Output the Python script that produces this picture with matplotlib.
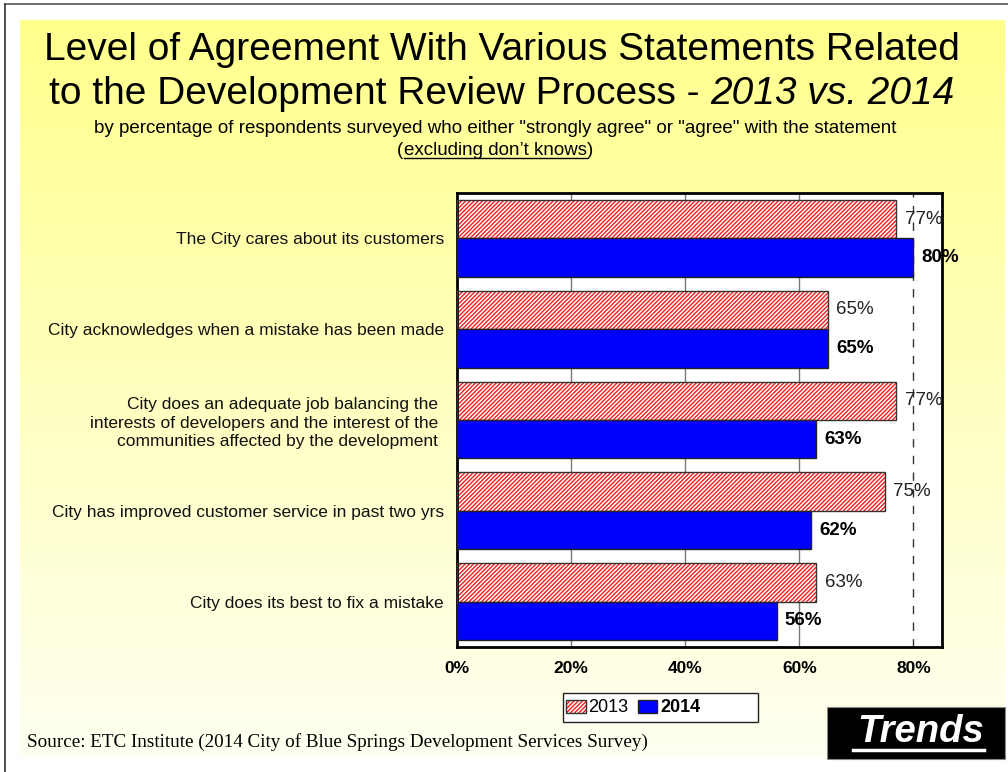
import numpy as np
import matplotlib
matplotlib.use("Agg")
import matplotlib.pyplot as plt
import matplotlib.patches as patches
from matplotlib.lines import Line2D

plt.rcParams['font.family'] = ['Liberation Sans', 'DejaVu Sans']
plt.rcParams['hatch.linewidth'] = 1.0

categories = [
    "The City cares about its customers",
    "City acknowledges when a mistake has been made",
    "City does an adequate job balancing the\ninterests of developers and the interest of the\ncommunities affected by the development",
    "City has improved customer service in past two yrs",
    "City does its best to fix a mistake",
]
pct_2013 = [77, 65, 77, 75, 63]
pct_2014 = [80, 65, 63, 62, 56]
x_ticks = [0, 20, 40, 60, 80]
x_tick_labels = ["0%", "20%", "40%", "60%", "80%"]

HATCH_RED = '#ff1a1a'
BLUE = '#0000ff'

W, H = 1008, 772
fig = plt.figure(figsize=(W / 100, H / 100), dpi=100)
fig.patch.set_facecolor('white')


def px(x, y):
    # pixel coords (from top-left) -> figure fraction
    return x / W, 1 - y / H


# slide background: yellow fading to cream
bg = fig.add_axes([20 / W, 1 - 757 / H, 985 / W, 737 / H], zorder=-5)
grad = np.linspace(0, 1, 256)[:, None]
top = np.array([255, 255, 140]) / 255
bot = np.array([255, 255, 242]) / 255
img = top[None, None, :] * (1 - grad[:, :, None]) + bot[None, None, :] * grad[:, :, None]
bg.imshow(np.repeat(img, 2, axis=1), aspect='auto', extent=[0, 1, 0, 1])
bg.axis('off')

# thin outer frame lines
fig.add_artist(Line2D([5 / W, 1], [1 - 4 / H, 1 - 4 / H], color='#555555', lw=1.2))
fig.add_artist(Line2D([5 / W, 5 / W], [0, 1 - 4 / H], color='#333333', lw=1.2))

# titles
fig.text(*px(502, 60), "Level of Agreement With Various Statements Related",
         ha='center', va='baseline', fontsize=28)

fig.canvas.draw()
renderer = fig.canvas.get_renderer()


def centered_runs(cx, y, runs):
    texts = []
    for s, kw in runs:
        texts.append(fig.text(0, 0, s, va='baseline', ha='left', **kw))
    widths = [t.get_window_extent(renderer).width for t in texts]
    x = cx - sum(widths) / 2
    for t, w in zip(texts, widths):
        t.set_position(px(x, y))
        x += w
    return texts


centered_runs(502, 104, [("to the Development Review Process - ", dict(fontsize=28)),
                         ("2013 vs. 2014", dict(fontsize=28, style='italic'))])
fig.text(*px(495, 133), 'by percentage of respondents surveyed who either "strongly agree" or "agree" with the statement',
         ha='center', va='baseline', fontsize=13.5)
sub = centered_runs(495, 155, [("(", dict(fontsize=13.5)),
                               ("excluding don\u2019t knows", dict(fontsize=13.5)),
                               (")", dict(fontsize=13.5))])
fig.canvas.draw()
bb = sub[1].get_window_extent(renderer)
uy = 1 - 158 / H
fig.add_artist(Line2D([bb.x0 / W, bb.x1 / W], [uy, uy], color='black', lw=1.0))

# main chart
ax = fig.add_axes([457 / W, 1 - 647 / H, 485 / W, 454 / H])
ax.set_facecolor('white')
n = len(categories)
centers = np.arange(n)[::-1]
bh = 0.424

ax.barh(centers + bh / 2, pct_2013, height=bh, color='white', edgecolor=HATCH_RED,
        hatch='////////', linewidth=0, zorder=2)
ax.barh(centers + bh / 2, pct_2013, height=bh, fill=False, edgecolor='#333333',
        linewidth=1.0, zorder=3)
ax.barh(centers - bh / 2, pct_2014, height=bh, color=BLUE, edgecolor='#222222',
        linewidth=1.0, zorder=3)

for c, v in zip(centers, pct_2013):
    ax.annotate(f"{v}%", (v, c + bh / 2), xytext=(6, 0), textcoords='offset points',
                va='center', ha='left', fontsize=13.5, color='#222222', zorder=4)
for c, v in zip(centers, pct_2014):
    ax.annotate(f"{v}%", (v, c - bh / 2), xytext=(6, 0), textcoords='offset points',
                va='center', ha='left', fontsize=13.5, fontweight='bold', color='black', zorder=4)

for g in x_ticks[1:-1]:
    ax.axvline(g, color='#777777', lw=1.0, zorder=1)
ax.axvline(80, color='#333333', lw=1.0, ls=(0, (6, 6)), zorder=1)

ax.set_xlim(0, 85)
ax.set_ylim(-0.5, n - 0.5)
ax.set_xticks(x_ticks, x_tick_labels, fontsize=12.5, fontweight='bold')
ax.set_yticks(centers, categories, fontsize=12.5, ha='right', multialignment='right',
              linespacing=1.3, color='#111111')
ax.tick_params(axis='both', length=0)
ax.tick_params(axis='x', pad=10)
ax.tick_params(axis='y', pad=9.5)
for s in ax.spines.values():
    s.set_linewidth(2)
    s.set_color('black')

# the long three-line statement sits a little further left than the others
ax.get_yticklabels()[2].set_x(-0.012)

# legend: frame drawn separately, wider than its entries
fig.add_artist(patches.Rectangle(px(563, 722), 195 / W, 29 / H, transform=fig.transFigure,
                                 facecolor='white', edgecolor='#222222', lw=1.0))
h13 = (patches.Patch(facecolor='white', edgecolor=HATCH_RED, hatch='////////', linewidth=0),
       patches.Patch(fill=False, edgecolor='#333333', linewidth=1))
h14 = patches.Patch(facecolor=BLUE, edgecolor='#222222', linewidth=1)
leg = fig.legend([h13, h14], ['2013', '2014'], loc='center left', bbox_to_anchor=px(564, 708),
                 ncol=2, fontsize=13, frameon=False, handlelength=1.1, handleheight=0.75,
                 handletextpad=0.15, columnspacing=0.5, borderpad=0.1, borderaxespad=0)
leg.get_texts()[1].set_fontweight('bold')

# source note
fig.text(*px(27, 747), "Source: ETC Institute (2014 City of Blue Springs Development Services Survey)",
         family='Liberation Serif', fontsize=13.8, ha='left', va='baseline')

# Trends badge
fig.add_artist(patches.Rectangle(px(827, 759), 178 / W, 52 / H, transform=fig.transFigure,
                                 facecolor='black', edgecolor='#888888', lw=0.8))
tr = fig.text(*px(921, 742), "Trends", color='white', fontsize=27.5, fontweight='bold',
              style='italic', ha='center', va='baseline')
fig.canvas.draw()
tb = tr.get_window_extent(renderer)
ly = 1 - 750 / H
fig.add_artist(Line2D([(tb.x0 - 5) / W, tb.x1 / W], [ly, ly], color='white', lw=2.5))

fig.savefig('out.png', dpi=100)
